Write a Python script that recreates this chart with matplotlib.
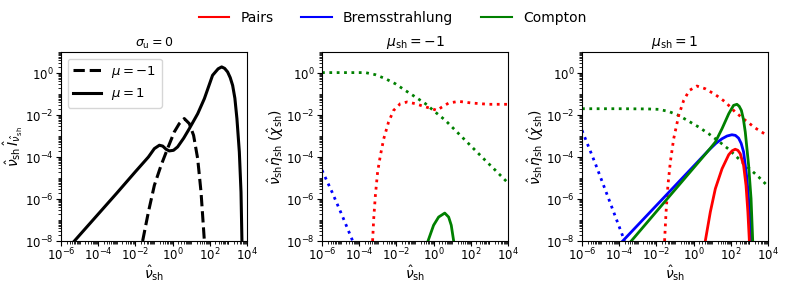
import numpy as np
import matplotlib
matplotlib.use("Agg")
import matplotlib.pyplot as plt
from matplotlib.ticker import LogLocator, NullFormatter
from matplotlib.lines import Line2D

# values are log10
# panel 1: sigma_u = 0
p1_mup_x = [-5.28, -4.0, -3.0, -2.0, -1.3, -0.98, -0.71, -0.53, -0.35, -0.18, 0.05, 0.27, 0.6, 0.9, 1.35,
            1.71, 2.15, 2.45, 2.64, 2.8, 2.96, 3.1, 3.23, 3.35, 3.46, 3.59, 3.68, 3.73]
p1_mup_y = [-8.0, -6.72, -5.72, -4.7, -4.0, -3.6, -3.44, -3.48, -3.63, -3.71, -3.68, -3.52, -3.1, -2.65, -1.94,
            -1.22, -0.11, 0.2, 0.29, 0.22, 0.05, -0.22, -0.59, -1.2, -2.17, -3.76, -5.67, -8.0]
p1_mum_x = [-1.61, -1.3, -0.98, -0.62, -0.27, 0.09, 0.36, 0.63, 0.9, 1.13, 1.35, 1.53, 1.71]
p1_mum_y = [-8.0, -6.62, -5.35, -4.4, -3.6, -2.81, -2.41, -2.17, -2.41, -2.97, -4.08, -5.67, -8.0]

# panel 2: mu_sh = -1
p2_comp_chi_x = [-6.0, -5.0, -4.0, -3.67, -3.13, -2.59, -2.06, -1.52, -0.98, -0.44, 0.09, 0.63, 1.17, 1.71,
                 2.24, 2.78, 3.32, 3.95, 4.0]
p2_comp_chi_y = [0.02, 0.02, 0.02, 0.02, -0.08, -0.27, -0.51, -0.83, -1.14, -1.46, -1.86, -2.25, -2.73, -3.21,
                 -3.68, -4.16, -4.63, -5.19, -5.23]
p2_pair_chi_x = [-3.28, -3.22, -3.13, -3.01, -2.86, -2.68, -2.42, -2.15, -1.79, -1.43, -0.98, -0.53, -0.09,
                 0.18, 0.45, 0.81, 1.35, 2.06, 2.96, 4.0]
p2_pair_chi_y = [-8.0, -6.94, -5.83, -4.71, -3.92, -3.13, -2.33, -1.78, -1.46, -1.38, -1.46, -1.59, -1.7,
                 -1.78, -1.62, -1.43, -1.35, -1.43, -1.49, -1.49]
p2_brem_chi_x = [-6.0, -5.46, -4.92, -4.35]
p2_brem_chi_y = [-4.63, -5.67, -6.78, -8.0]
p2_comp_eta_x = [-0.3, 0.0, 0.27, 0.6, 0.81, 0.95, 1.08]
p2_comp_eta_y = [-8.0, -7.25, -6.86, -6.67, -6.86, -7.25, -8.0]

# panel 3: mu_sh = 1
p3_comp_chi_x = [-6.0, -4.0, -2.5, -1.88, -1.34, -0.8, -0.27, 0.27, 0.81, 1.35, 1.89, 2.42, 2.96, 3.5, 3.95, 4.0]
p3_comp_chi_y = [-1.7, -1.7, -1.71, -1.73, -1.83, -2.02, -2.29, -2.57, -2.89, -3.25, -3.63, -4.08, -4.52,
                 -4.95, -5.35, -5.39]
p3_pair_chi_x = [-1.56, -1.48, -1.38, -1.25, -1.07, -0.8, -0.53, -0.23, 0.18, 0.63, 1.17, 1.71, 2.24, 2.78,
                 3.32, 3.95, 4.0]
p3_pair_chi_y = [-8.0, -6.62, -5.35, -4.24, -3.13, -2.02, -1.3, -0.83, -0.62, -0.75, -1.03, -1.38, -1.86,
                 -2.25, -2.62, -2.97, -3.0]
p3_brem_chi_x = [-6.0, -5.28, -4.57, -3.71]
p3_brem_chi_y = [-2.73, -4.32, -5.98, -8.0]
p3_brem_eta_x = [-3.81, 0.81, 1.2, 1.53, 1.8, 2.06, 2.25, 2.42, 2.56, 2.69, 2.87, 3.0, 3.09]
p3_brem_eta_y = [-8.0, -3.68, -3.35, -3.13, -3.0, -2.94, -2.97, -3.1, -3.35, -3.76, -5.03, -6.46, -8.0]
p3_comp_eta_x = [-3.35, 0.81, 1.17, 1.53, 1.89, 2.15, 2.33, 2.45, 2.57, 2.68, 2.78, 2.96, 3.09, 3.18]
p3_comp_eta_y = [-8.0, -3.68, -3.29, -2.65, -1.94, -1.54, -1.49, -1.58, -1.78, -2.2, -2.81, -4.4, -5.98, -8.0]
p3_pair_eta_x = [0.63, 0.9, 1.17, 1.53, 1.89, 2.08, 2.24, 2.38, 2.51, 2.69, 2.82, 2.92, 3.0]
p3_pair_eta_y = [-8.0, -6.62, -5.51, -4.56, -3.89, -3.7, -3.63, -3.68, -3.84, -4.4, -5.35, -6.62, -8.0]


def pw(a):
    return 10.0 ** np.array(a)


fig = plt.figure(figsize=(7.85, 2.83), dpi=100)
w, h, b = 0.2369, 0.6678, 0.1484
ax1 = fig.add_axes([0.0777, b, w, h])
ax2 = fig.add_axes([0.4102, b, w, h])
ax3 = fig.add_axes([0.7414, b, w, h])

ax1.plot(pw(p1_mum_x), pw(p1_mum_y), "k--", lw=2.2, label=r"$\mu=-1$")
ax1.plot(pw(p1_mup_x), pw(p1_mup_y), "k-", lw=2.2, label=r"$\mu=1$")
ax1.legend(loc="upper left", fontsize=9.5, handlelength=2.1)
ax1.set_title(r"$\sigma_{\rm u}=0$", fontsize=9, pad=4)
ax1.set_ylabel(r"$\hat{\nu}_{\rm sh}\,\hat{I}_{\hat{\nu}_{\rm sh}}$", fontsize=10, labelpad=0)

dot = dict(ls=":", lw=2)
ax2.plot(pw(p2_comp_chi_x), pw(p2_comp_chi_y), color="green", **dot)
ax2.plot(pw(p2_pair_chi_x), pw(p2_pair_chi_y), color="red", **dot)
ax2.plot(pw(p2_brem_chi_x), pw(p2_brem_chi_y), color="blue", **dot)
ax2.plot(pw(p2_comp_eta_x), pw(p2_comp_eta_y), color="green", lw=2)
ax2.set_title(r"$\mu_{\rm sh}=-1$", fontsize=10, pad=4)

ax3.plot(pw(p3_comp_chi_x), pw(p3_comp_chi_y), color="green", **dot)
ax3.plot(pw(p3_pair_chi_x), pw(p3_pair_chi_y), color="red", **dot)
ax3.plot(pw(p3_brem_chi_x), pw(p3_brem_chi_y), color="blue", **dot)
ax3.plot(pw(p3_brem_eta_x), pw(p3_brem_eta_y), color="blue", lw=2)
ax3.plot(pw(p3_comp_eta_x), pw(p3_comp_eta_y), color="green", lw=2)
ax3.plot(pw(p3_pair_eta_x), pw(p3_pair_eta_y), color="red", lw=2)
ax3.set_title(r"$\mu_{\rm sh}=1$", fontsize=10, pad=4)

for ax in (ax2, ax3):
    ax.set_ylabel(r"$\hat{\nu}_{\rm sh}\hat{\eta}_{\rm sh}\ (\hat{\chi}_{\rm sh})$", fontsize=10, labelpad=0)

for ax in (ax1, ax2, ax3):
    ax.set_xscale("log")
    ax.set_yscale("log")
    ax.set_xlim(1e-6, 1e4)
    ax.set_ylim(1e-8, 1e1)
    ax.set_xticks([1e-6, 1e-4, 1e-2, 1e0, 1e2, 1e4])
    ax.set_yticks([1e-8, 1e-6, 1e-4, 1e-2, 1e0])
    ax.xaxis.set_minor_locator(LogLocator(base=10, subs=np.arange(1, 10), numticks=100))
    ax.yaxis.set_minor_locator(LogLocator(base=10, subs=np.arange(1, 10), numticks=100))
    ax.xaxis.set_minor_formatter(NullFormatter())
    ax.yaxis.set_minor_formatter(NullFormatter())
    ax.tick_params(labelsize=8.5)
    ax.tick_params(axis="x", which="major", pad=0.5)
    ax.tick_params(axis="y", which="major", pad=2)
    ax.set_xlabel(r"$\hat{\nu}_{\rm sh}$", fontsize=10, labelpad=0)

handles = [Line2D([], [], color=c, lw=1.5) for c in ("red", "blue", "green")]
fig.legend(handles, ["Pairs", "Bremsstrahlung", "Compton"], loc="center", ncol=3,
           bbox_to_anchor=(0.5, 0.937), frameon=False, fontsize=10, handlelength=2.2,
           columnspacing=2.0)

fig.savefig("out.png", dpi=100)
